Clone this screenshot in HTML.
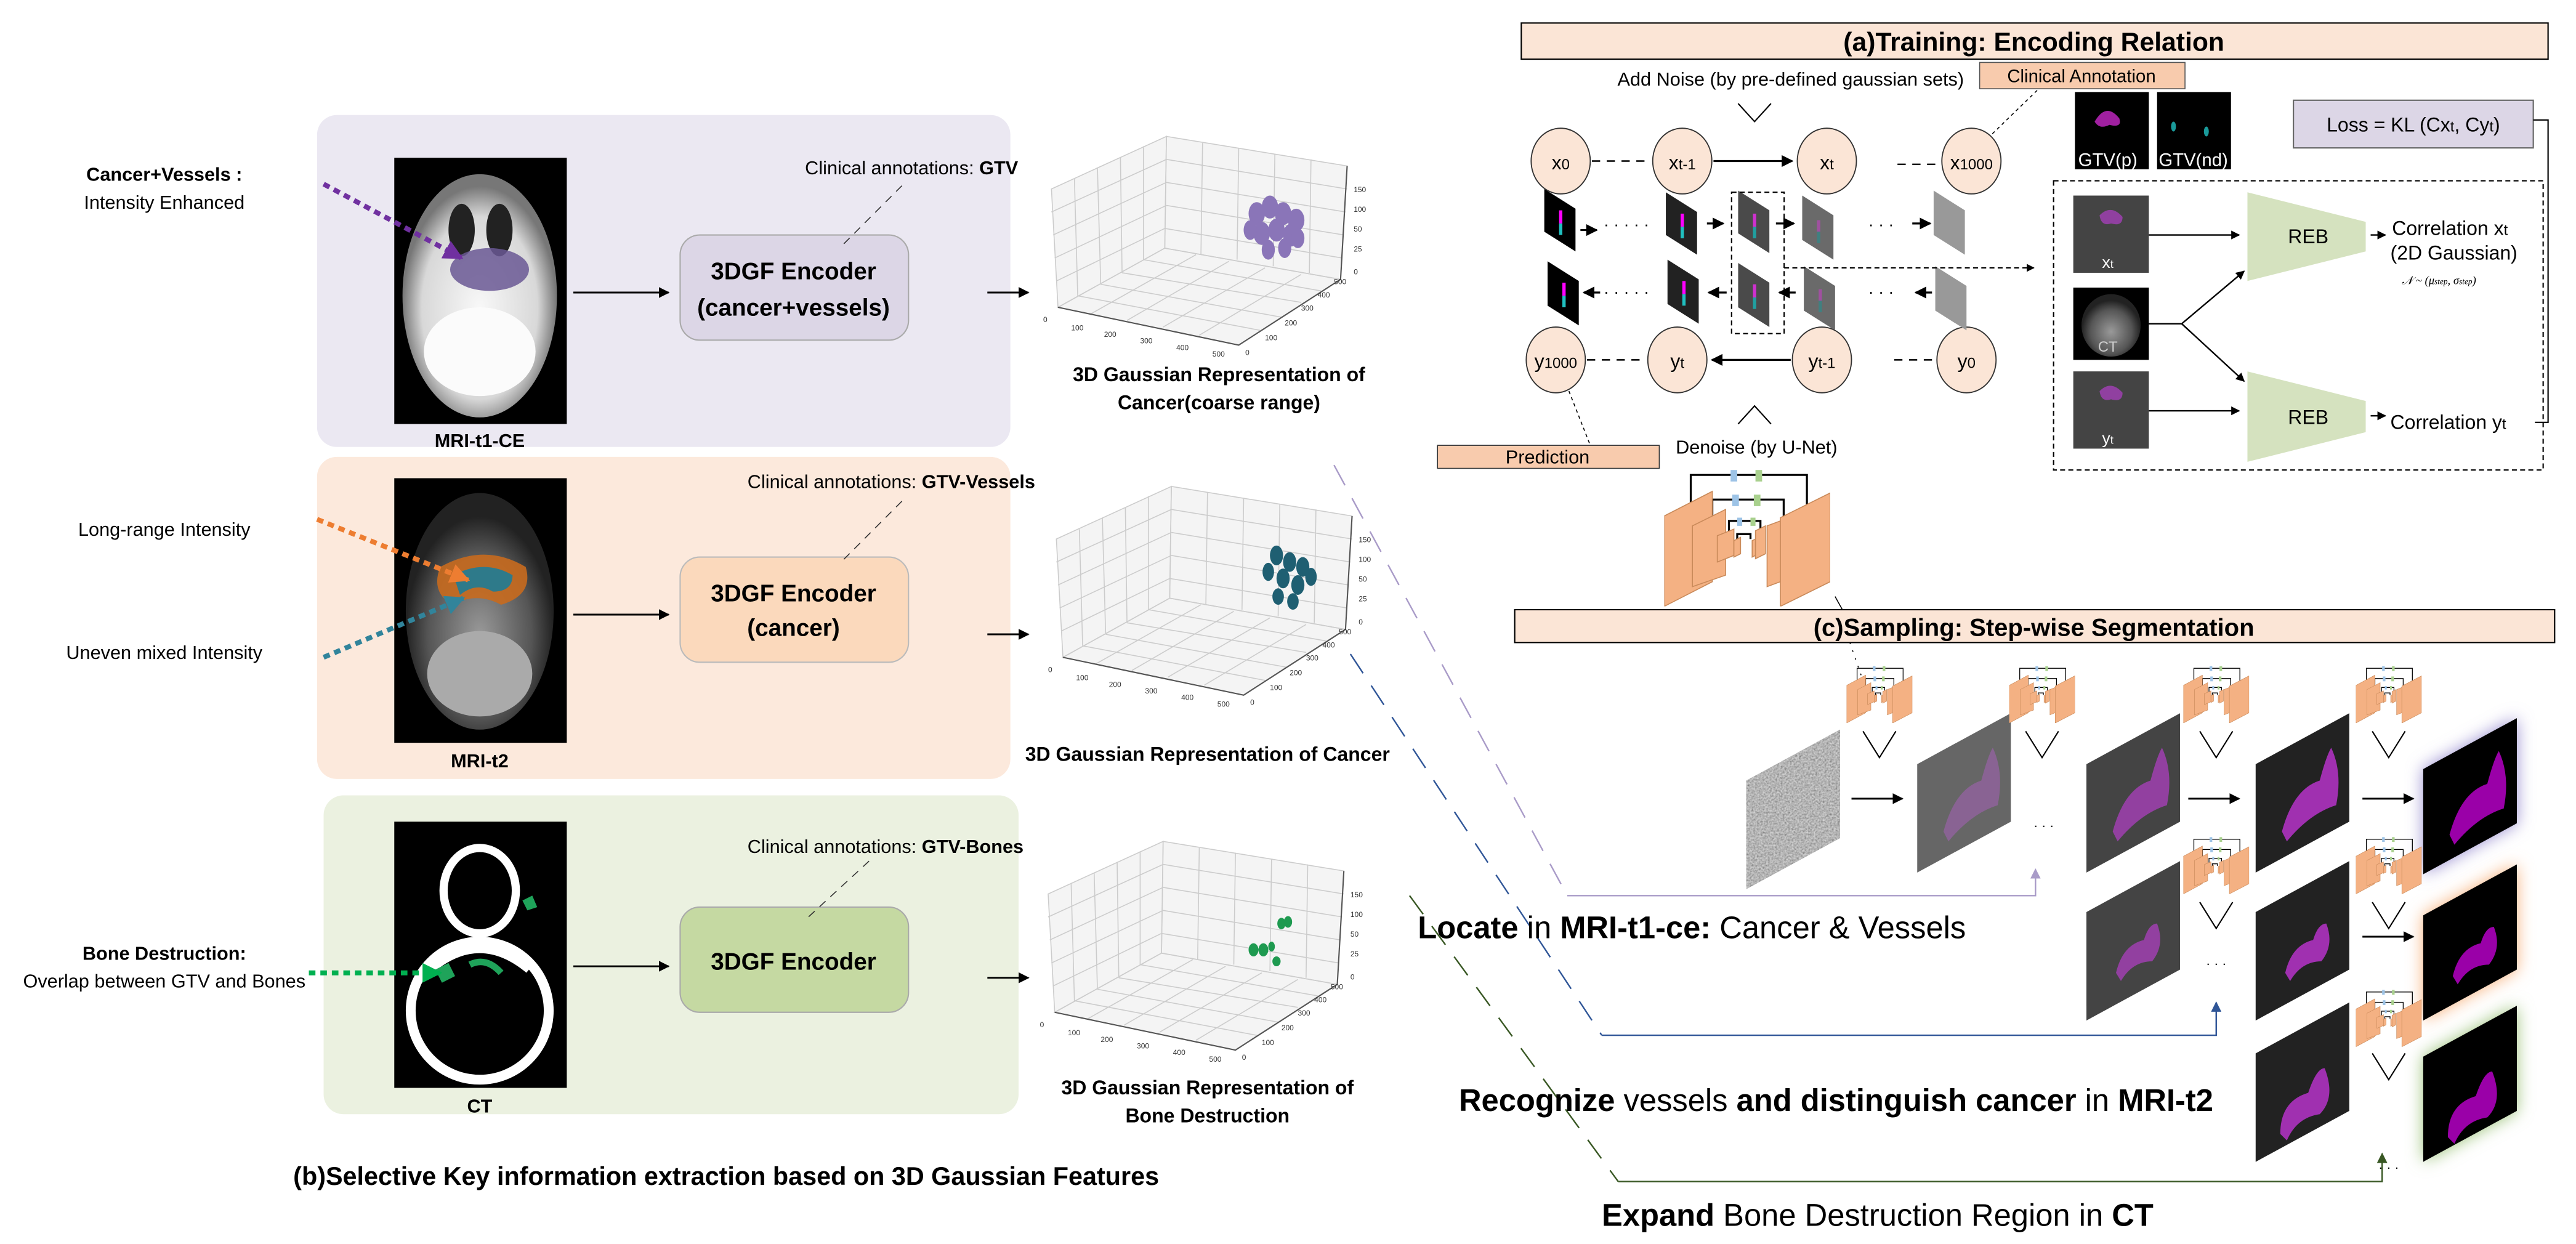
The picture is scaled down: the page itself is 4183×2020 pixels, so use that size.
<!DOCTYPE html>
<html><head><meta charset="utf-8"><style>
html,body{margin:0;padding:0;background:#fff;}
svg{display:block;font-family:"Liberation Sans",sans-serif;}
.b{font-weight:bold;}
</style></head><body>
<svg width="4183" height="2020" viewBox="0 0 1568 757" preserveAspectRatio="none" xmlns="http://www.w3.org/2000/svg">
<defs>
<marker id="ah" viewBox="0 0 10 10" refX="9" refY="5" markerWidth="6" markerHeight="6" orient="auto"><path d="M0,0 L10,5 L0,10 z" fill="#000"/></marker>
<marker id="ahp" viewBox="0 0 10 10" refX="9" refY="5" markerWidth="4" markerHeight="4" orient="auto"><path d="M0,0 L10,5 L0,10 z" fill="#7030a0"/></marker>
<marker id="aho" viewBox="0 0 10 10" refX="9" refY="5" markerWidth="4" markerHeight="4" orient="auto"><path d="M0,0 L10,5 L0,10 z" fill="#ed7d31"/></marker>
<marker id="ahb" viewBox="0 0 10 10" refX="9" refY="5" markerWidth="4" markerHeight="4" orient="auto"><path d="M0,0 L10,5 L0,10 z" fill="#31849b"/></marker>
<marker id="ahg" viewBox="0 0 10 10" refX="9" refY="5" markerWidth="4" markerHeight="4" orient="auto"><path d="M0,0 L10,5 L0,10 z" fill="#00b050"/></marker>
<marker id="ahl" viewBox="0 0 10 10" refX="9" refY="5" markerWidth="7" markerHeight="7" orient="auto"><path d="M0,0 L10,5 L0,10 z" fill="#a99bc8"/></marker>
<marker id="ahn" viewBox="0 0 10 10" refX="9" refY="5" markerWidth="7" markerHeight="7" orient="auto"><path d="M0,0 L10,5 L0,10 z" fill="#2f5597"/></marker>
<marker id="ahd" viewBox="0 0 10 10" refX="9" refY="5" markerWidth="7" markerHeight="7" orient="auto"><path d="M0,0 L10,5 L0,10 z" fill="#385723"/></marker>
<radialGradient id="head" cx="50%" cy="55%" r="50%"><stop offset="0" stop-color="#f8f8f8"/><stop offset="0.75" stop-color="#d8d8d8"/><stop offset="1" stop-color="#777"/></radialGradient>
<radialGradient id="head2" cx="50%" cy="60%" r="50%"><stop offset="0" stop-color="#999"/><stop offset="0.7" stop-color="#555"/><stop offset="1" stop-color="#222"/></radialGradient>
<filter id="noise"><feTurbulence type="fractalNoise" baseFrequency="0.9" numOctaves="2" result="t"/><feColorMatrix type="saturate" values="0"/><feComponentTransfer><feFuncA type="table" tableValues="1 1"/></feComponentTransfer><feComposite in2="SourceGraphic" operator="in"/></filter>
<filter id="glow" x="-40%" y="-40%" width="180%" height="180%"><feGaussianBlur stdDeviation="5"/></filter>
<symbol id="unet" viewBox="0 0 100 84" preserveAspectRatio="none">
<g fill="none" stroke="#000" stroke-width="1.2">
<path d="M16,21 V4 H86 V22"/><path d="M29,31 V19 H72 V32"/><path d="M39,38 V32 H58 V38"/><path d="M44,43 V40 H52 V43"/>
</g>
<g fill="#9dc3e6"><rect x="40" y="1" width="4" height="7"/><rect x="41" y="16" width="4" height="7"/><rect x="44" y="30" width="3" height="5"/></g>
<g fill="#a9d18e"><rect x="55" y="1" width="4" height="7"/><rect x="54" y="16" width="4" height="7"/><rect x="52" y="30" width="3" height="5"/></g>
<g fill="#f4b183" stroke="#c98a5a" stroke-width="0.6">
<polygon points="0,29 29,14 29,69 0,84"/>
<polygon points="17,35 37,25 37,65 17,72"/>
<polygon points="32,41 42,37 42,53 32,57"/>
<polygon points="42,44 46,42 46,52 42,54"/>
<polygon points="53,44 57,42 57,52 53,54"/>
<polygon points="55,38 61,35 61,52 55,55"/>
<polygon points="62,35 70,32 70,69 62,72"/>
<polygon points="70,30 100,15 100,69 70,84"/>
</g>
</symbol>
<symbol id="plot" viewBox="0 0 200 150" overflow="visible">
<polygon points="10,32 80,0 190,18 186,87 124,127 14,104" fill="#f4f4f4"/>
<g stroke="#ccc" stroke-width="0.6" fill="none">
<polygon points="80,0 190,18 186,87 79,68"/>
<polygon points="10,32 80,0 79,68 14,104"/>
<polygon points="14,104 79,68 186,87 124,127"/>
<path d="M102,4 L101,72 M124,7 L123,75 M146,11 L145,79 M168,14 L167,83 M80,14 L190,32 M80,28 L189,46 M80,42 L188,60 M79,56 L187,74 M24,26 L26,97 M38,19 L40,90 M52,13 L53,83 M66,6 L66,75 M10,46 L80,14 M11,60 L80,28 M12,74 L80,42 M13,88 L79,56 M34,108 L98,72 M56,112 L118,76 M78,116 L140,80 M100,121 L162,84 M26,97 L137,118 M40,90 L150,110 M53,83 L162,101 M66,75 L174,94"/>
</g>
<path d="M14,104 L124,127 L186,87 L190,18" fill="none" stroke="#555" stroke-width="0.8"/>
<g font-size="4.5" fill="#333">
<text x="5" y="113">0</text><text x="22" y="118">100</text><text x="42" y="122">200</text><text x="64" y="126">300</text><text x="86" y="130">400</text><text x="108" y="134">500</text>
<text x="128" y="133">0</text><text x="140" y="124">100</text><text x="152" y="115">200</text><text x="162" y="106">300</text><text x="172" y="98">400</text><text x="182" y="90">500</text>
<text x="194" y="84">0</text><text x="194" y="70">25</text><text x="194" y="58">50</text><text x="194" y="46">100</text><text x="194" y="34">150</text>
</g>
</symbol>
</defs>

<!-- ===== LEFT PANEL (b) ===== -->
<rect x="193" y="70" width="422" height="202" rx="12" fill="#ebe8f2"/>
<rect x="193" y="278" width="422" height="196" rx="12" fill="#fce9dc"/>
<rect x="197" y="484" width="423" height="194" rx="12" fill="#ebf1e0"/>

<!-- MRI t1 -->
<rect x="240" y="96" width="105" height="162" fill="#000"/>
<ellipse cx="292" cy="180" rx="47" ry="74" fill="url(#head)"/>
<ellipse cx="281" cy="140" rx="8" ry="16" fill="#222"/><ellipse cx="304" cy="140" rx="8" ry="16" fill="#222"/>
<ellipse cx="292" cy="214" rx="34" ry="27" fill="#fbfbfb"/>
<ellipse cx="298" cy="164" rx="24" ry="13" fill="#6a5894" opacity="0.85"/>
<!-- MRI t2 -->
<rect x="240" y="291" width="105" height="161" fill="#000"/>
<ellipse cx="292" cy="372" rx="45" ry="72" fill="url(#head2)"/>
<ellipse cx="292" cy="410" rx="32" ry="26" fill="#aaa"/>
<path d="M268,345 Q295,330 320,345 Q325,362 305,368 Q290,360 275,368 Q262,360 268,345Z" fill="#c86a1e" opacity="0.9"/>
<path d="M276,350 Q295,340 312,350 Q312,360 300,360 Q290,354 280,362 Z" fill="#2e7a8a"/>
<!-- CT -->
<rect x="240" y="500" width="105" height="162" fill="#000"/>
<ellipse cx="292" cy="615" rx="42" ry="42" fill="none" stroke="#fff" stroke-width="6"/>
<ellipse cx="292" cy="542" rx="22" ry="26" fill="none" stroke="#fff" stroke-width="5"/>
<path d="M262,590 Q292,565 322,590" fill="none" stroke="#fff" stroke-width="5"/>
<path d="M286,587 Q296,582 305,592" fill="none" stroke="#1fa35a" stroke-width="4"/>
<path d="M265,590 l8,-4 l4,8 l-8,4z" fill="#1fa35a"/>
<path d="M318,548 l6,-3 l3,7 l-6,2z" fill="#1fa35a"/>

<g font-size="11.5" class="b" text-anchor="middle">
<text x="292" y="272">MRI-t1-CE</text><text x="292" y="467">MRI-t2</text><text x="292" y="677">CT</text>
</g>

<!-- encoders -->
<rect x="414" y="143" width="139" height="64" rx="12" fill="#dcd6e6" stroke="#aaa" stroke-width="0.8"/>
<rect x="414" y="339" width="139" height="64" rx="12" fill="#fbd9bc" stroke="#bbb" stroke-width="0.8"/>
<rect x="414" y="552" width="139" height="64" rx="12" fill="#c5d9a2" stroke="#aaa" stroke-width="0.8"/>
<g font-size="14.5" class="b" text-anchor="middle">
<text x="483" y="170">3DGF Encoder</text><text x="483" y="192">(cancer+vessels)</text>
<text x="483" y="366">3DGF Encoder</text><text x="483" y="387">(cancer)</text>
<text x="483" y="590">3DGF Encoder</text>
</g>
<g stroke="#000" stroke-width="1.1" marker-end="url(#ah)">
<line x1="349" y1="178" x2="407" y2="178"/><line x1="349" y1="374" x2="407" y2="374"/><line x1="349" y1="588" x2="407" y2="588"/>
<line x1="601" y1="178" x2="626" y2="178"/><line x1="601" y1="386" x2="626" y2="386"/><line x1="601" y1="595" x2="626" y2="595"/>
</g>
<g font-size="11.5">
<text x="490" y="106">Clinical annotations: <tspan class="b">GTV</tspan></text>
<text x="455" y="297">Clinical annotations: <tspan class="b">GTV-Vessels</tspan></text>
<text x="455" y="519">Clinical annotations: <tspan class="b">GTV-Bones</tspan></text>
</g>
<g stroke="#333" stroke-width="0.6" stroke-dasharray="5,4">
<line x1="549" y1="113" x2="512" y2="150"/><line x1="549" y1="305" x2="512" y2="342"/><line x1="529" y1="524" x2="491" y2="559"/>
</g>

<!-- plots -->
<use href="#plot" x="630" y="83" width="200" height="150"/>
<use href="#plot" x="633" y="296" width="200" height="150"/>
<use href="#plot" x="628" y="512" width="200" height="150"/>
<g fill="#8a75b8">
<ellipse cx="765" cy="130" rx="5" ry="7"/><ellipse cx="773" cy="126" rx="5" ry="7"/><ellipse cx="781" cy="130" rx="5" ry="7"/><ellipse cx="789" cy="134" rx="5" ry="7"/>
<ellipse cx="768" cy="142" rx="5" ry="7"/><ellipse cx="777" cy="140" rx="5" ry="7"/><ellipse cx="786" cy="143" rx="5" ry="7"/><ellipse cx="761" cy="140" rx="4" ry="6"/>
<ellipse cx="772" cy="152" rx="4" ry="6"/><ellipse cx="782" cy="151" rx="4" ry="6"/><ellipse cx="790" cy="145" rx="4" ry="6"/>
</g>
<g fill="#1f5f72">
<ellipse cx="777" cy="338" rx="4" ry="6"/><ellipse cx="785" cy="342" rx="4" ry="6"/><ellipse cx="793" cy="345" rx="4" ry="6"/><ellipse cx="772" cy="348" rx="3.5" ry="5.5"/>
<ellipse cx="781" cy="352" rx="4" ry="6"/><ellipse cx="790" cy="356" rx="4" ry="6"/><ellipse cx="798" cy="351" rx="3.5" ry="5.5"/><ellipse cx="778" cy="363" rx="3.5" ry="5"/><ellipse cx="787" cy="366" rx="3.5" ry="5"/>
</g>
<g fill="#1e9a50">
<ellipse cx="780" cy="562" rx="2.5" ry="3.5"/><ellipse cx="784" cy="561" rx="2.5" ry="3.5"/><ellipse cx="763" cy="578" rx="3" ry="4"/><ellipse cx="769" cy="578" rx="3" ry="4"/><ellipse cx="774" cy="576" rx="2" ry="3"/><ellipse cx="777" cy="585" rx="2.5" ry="3"/>
</g>
<g font-size="12" class="b" text-anchor="middle">
<text x="742" y="232">3D Gaussian Representation of</text><text x="742" y="249">Cancer(coarse range)</text>
<text x="735" y="463">3D Gaussian Representation of Cancer</text>
<text x="735" y="666">3D Gaussian Representation of</text><text x="735" y="683">Bone Destruction</text>
</g>

<!-- left annotations -->
<g font-size="11.5" text-anchor="middle">
<text x="100" y="110" class="b">Cancer+Vessels :</text><text x="100" y="127">Intensity Enhanced</text>
<text x="100" y="326">Long-range Intensity</text>
<text x="100" y="401">Uneven mixed Intensity</text>
<text x="100" y="584" class="b">Bone Destruction:</text><text x="100" y="601">Overlap between GTV and Bones</text>
</g>
<g stroke-width="3" stroke-dasharray="4,3" fill="none">
<line x1="197" y1="112" x2="281" y2="157" stroke="#7030a0" marker-end="url(#ahp)"/>
<line x1="193" y1="316" x2="285" y2="353" stroke="#ed7d31" marker-end="url(#aho)"/>
<line x1="197" y1="400" x2="282" y2="364" stroke="#31849b" marker-end="url(#ahb)"/>
<line x1="188" y1="592" x2="268" y2="592" stroke="#00b050" marker-end="url(#ahg)"/>
</g>
<text x="442" y="721" font-size="15.5" class="b" text-anchor="middle">(b)Selective Key information extraction based on 3D Gaussian Features</text>

<!-- ===== (a) TRAINING ===== -->
<rect x="926" y="14" width="625" height="22" fill="#fbe5d6" stroke="#000" stroke-width="0.8"/>
<text x="1238" y="31" font-size="16" class="b" text-anchor="middle">(a)Training: Encoding Relation</text>
<text x="1090" y="52" font-size="11.5" text-anchor="middle">Add Noise (by pre-defined gaussian sets)</text>
<rect x="1205" y="38" width="125" height="16" fill="#f8cbad" stroke="#555" stroke-width="0.6"/>
<text x="1267" y="50" font-size="11" text-anchor="middle">Clinical Annotation</text>
<path d="M1058,63 L1068,74 L1078,63" fill="none" stroke="#000" stroke-width="0.8"/>
<line x1="1240" y1="55" x2="1208" y2="86" stroke="#000" stroke-width="0.6" stroke-dasharray="2,2"/>

<g fill="#fbe5d6" stroke="#333" stroke-width="0.7">
<ellipse cx="950" cy="98" rx="18" ry="20"/><ellipse cx="1024" cy="98" rx="18" ry="20"/><ellipse cx="1112" cy="98" rx="18" ry="20"/><ellipse cx="1200" cy="98" rx="18" ry="20"/>
<ellipse cx="947" cy="219" rx="18" ry="20"/><ellipse cx="1021" cy="219" rx="18" ry="20"/><ellipse cx="1109" cy="219" rx="18" ry="20"/><ellipse cx="1197" cy="219" rx="18" ry="20"/>
</g>
<g font-size="12" text-anchor="middle">
<text x="950" y="103">x<tspan font-size="9">0</tspan></text><text x="1024" y="103">x<tspan font-size="9">t-1</tspan></text><text x="1112" y="103">x<tspan font-size="9">t</tspan></text><text x="1200" y="103">x<tspan font-size="9">1000</tspan></text>
<text x="947" y="224">y<tspan font-size="9">1000</tspan></text><text x="1021" y="224">y<tspan font-size="9">t</tspan></text><text x="1109" y="224">y<tspan font-size="9">t-1</tspan></text><text x="1197" y="224">y<tspan font-size="9">0</tspan></text>
</g>
<g stroke="#000" stroke-width="0.9" stroke-dasharray="5,4">
<line x1="969" y1="98" x2="1005" y2="98"/><line x1="1155" y1="100" x2="1180" y2="100"/>
<line x1="966" y1="219" x2="1002" y2="219"/><line x1="1153" y1="219" x2="1178" y2="219"/>
</g>
<line x1="1043" y1="98" x2="1091" y2="98" stroke="#000" stroke-width="1.2" marker-end="url(#ah)"/>
<line x1="1090" y1="219" x2="1042" y2="219" stroke="#000" stroke-width="1.2" marker-end="url(#ah)"/>

<!-- small slices (a) -->
<g>
<polygon points="940,115 959,127 959,153 940,141" fill="#000"/>
<polygon points="1014,117 1033,129 1033,155 1014,143" fill="#222"/>
<polygon points="1058,116 1077,128 1077,154 1058,142" fill="#4a4a4a"/>
<polygon points="1097,119 1116,131 1116,158 1097,146" fill="#6a6a6a"/>
<polygon points="1177,116 1196,128 1196,155 1177,143" fill="#999"/>
<polygon points="942,159 961,171 961,198 942,186" fill="#000"/>
<polygon points="1015,158 1034,170 1034,197 1015,185" fill="#222"/>
<polygon points="1058,160 1077,172 1077,199 1058,187" fill="#4a4a4a"/>
<polygon points="1098,162 1117,174 1117,201 1098,189" fill="#6a6a6a"/>
<polygon points="1178,162 1197,174 1197,201 1178,189" fill="#999"/>
</g>
<g stroke-width="2">
<line x1="950" y1="128" x2="950" y2="136" stroke="#ff00ff"/><line x1="950" y1="136" x2="950" y2="143" stroke="#20c0c0"/>
<line x1="1024" y1="130" x2="1024" y2="138" stroke="#ff00ff"/><line x1="1024" y1="138" x2="1024" y2="145" stroke="#20c0c0"/>
<line x1="1068" y1="130" x2="1068" y2="138" stroke="#d030d0"/><line x1="1068" y1="138" x2="1068" y2="145" stroke="#20a0a0"/>
<line x1="1107" y1="134" x2="1107" y2="141" stroke="#a050a0"/><line x1="1107" y1="141" x2="1107" y2="148" stroke="#408080"/>
<line x1="952" y1="172" x2="952" y2="180" stroke="#ff00ff"/><line x1="952" y1="180" x2="952" y2="187" stroke="#20c0c0"/>
<line x1="1025" y1="171" x2="1025" y2="179" stroke="#ff00ff"/><line x1="1025" y1="179" x2="1025" y2="186" stroke="#20c0c0"/>
<line x1="1068" y1="173" x2="1068" y2="181" stroke="#d030d0"/><line x1="1068" y1="181" x2="1068" y2="188" stroke="#20a0a0"/>
<line x1="1108" y1="176" x2="1108" y2="183" stroke="#a050a0"/><line x1="1108" y1="183" x2="1108" y2="190" stroke="#408080"/>
</g>
<g stroke="#000" stroke-width="1.2" marker-end="url(#ah)">
<line x1="962" y1="140" x2="972" y2="140"/><line x1="1039" y1="136" x2="1049" y2="136"/><line x1="1081" y1="136" x2="1092" y2="136"/><line x1="1164" y1="136" x2="1175" y2="136"/>
<line x1="974" y1="178" x2="964" y2="178"/><line x1="1051" y1="178" x2="1040" y2="178"/><line x1="1093" y1="178" x2="1083" y2="178"/><line x1="1176" y1="178" x2="1166" y2="178"/>
</g>
<g font-size="10" text-anchor="middle"><text x="990" y="140">· · · · ·</text><text x="1145" y="140">· · ·</text><text x="990" y="181">· · · · ·</text><text x="1145" y="181">· · ·</text></g>
<rect x="1054" y="117" width="32" height="86" fill="none" stroke="#000" stroke-width="0.8" stroke-dasharray="3,2"/>
<line x1="1086" y1="163" x2="1238" y2="163" stroke="#000" stroke-width="0.8" stroke-dasharray="3,2" marker-end="url(#ah)"/>

<!-- GTV images -->
<rect x="1263" y="56" width="45" height="47" fill="#000"/><rect x="1313" y="56" width="45" height="47" fill="#000"/>
<path d="M1275,74 Q1282,62 1290,72 Q1292,78 1284,76 Q1278,79 1275,74Z" fill="#a020a0"/>
<ellipse cx="1323" cy="77" rx="1.5" ry="3" fill="#1a9a9a"/><ellipse cx="1343" cy="80" rx="1.5" ry="3" fill="#1a9a9a"/>
<g font-size="11" fill="#fff"><text x="1265" y="101">GTV(p)</text><text x="1314" y="101">GTV(nd)</text></g>

<!-- Loss -->
<rect x="1396" y="61" width="146" height="29" fill="#dcd6e6" stroke="#666" stroke-width="0.8"/>
<text x="1469" y="80" font-size="12" text-anchor="middle">Loss = KL (Cx<tspan font-size="9">t</tspan>, Cy<tspan font-size="9">t</tspan>)</text>
<path d="M1542,73 H1551 V257 H1543" fill="none" stroke="#000" stroke-width="0.8"/>

<!-- dashed box -->
<rect x="1250" y="110" width="298" height="176" fill="none" stroke="#000" stroke-width="0.8" stroke-dasharray="3,2"/>
<rect x="1262" y="119" width="46" height="47" fill="#444"/>
<path d="M1278,131 Q1285,124 1292,132 Q1292,138 1285,136 Q1279,138 1278,131Z" fill="#9040a0"/>
<text x="1283" y="163" font-size="10" fill="#fff" text-anchor="middle">x<tspan font-size="7">t</tspan></text>
<rect x="1262" y="175" width="46" height="44" fill="#000"/>
<ellipse cx="1285" cy="198" rx="18" ry="19" fill="url(#head2)"/>
<text x="1283" y="214" font-size="9" fill="#ccc" text-anchor="middle">CT</text>
<rect x="1262" y="226" width="46" height="47" fill="#444"/>
<path d="M1278,238 Q1285,231 1292,239 Q1292,245 1285,243 Q1279,245 1278,238Z" fill="#9040a0"/>
<text x="1283" y="270" font-size="10" fill="#fff" text-anchor="middle">y<tspan font-size="7">t</tspan></text>
<polygon points="1368,117 1440,135 1440,153 1368,171" fill="#d5e2bf"/>
<polygon points="1368,226 1440,244 1440,263 1368,281" fill="#d5e2bf"/>
<g font-size="12" text-anchor="middle"><text x="1405" y="148">REB</text><text x="1405" y="258">REB</text></g>
<g stroke="#000" stroke-width="0.9" fill="none">
<line x1="1308" y1="143" x2="1363" y2="143" marker-end="url(#ah)"/>
<line x1="1308" y1="250" x2="1363" y2="250" marker-end="url(#ah)"/>
<path d="M1308,197 H1328"/><line x1="1328" y1="197" x2="1366" y2="165" marker-end="url(#ah)"/><line x1="1328" y1="197" x2="1366" y2="232" marker-end="url(#ah)"/>
<line x1="1443" y1="143" x2="1452" y2="143" marker-end="url(#ah)"/>
<line x1="1443" y1="253" x2="1452" y2="253" marker-end="url(#ah)"/>
</g>
<g font-size="12">
<text x="1456" y="143">Correlation x<tspan font-size="9">t</tspan></text>
<text x="1455" y="158">(2D Gaussian)</text>
<text x="1462" y="173" font-size="7" font-family="Liberation Serif" font-style="italic">𝒩 ~ (μ<tspan font-size="5">step</tspan>, σ<tspan font-size="5">step</tspan>)</text>
<text x="1455" y="261">Correlation y<tspan font-size="9">t</tspan></text>
</g>

<rect x="875" y="271" width="135" height="14" fill="#f8cbad" stroke="#333" stroke-width="0.6"/>
<text x="942" y="282" font-size="11.5" text-anchor="middle">Prediction</text>
<line x1="955" y1="238" x2="968" y2="271" stroke="#000" stroke-width="0.6" stroke-dasharray="2,2"/>
<path d="M1058,258 L1068,247 L1078,258" fill="none" stroke="#000" stroke-width="0.8"/>
<text x="1020" y="276" font-size="11.5">Denoise (by U-Net)</text>
<use href="#unet" x="1013" y="285" width="101" height="84"/>
<line x1="1117" y1="363" x2="1122" y2="372" stroke="#000" stroke-width="0.6"/>

<!-- ===== (c) SAMPLING ===== -->
<rect x="922" y="371" width="633" height="20" fill="#fbe5d6" stroke="#000" stroke-width="0.8"/>
<text x="1238" y="387" font-size="15" class="b" text-anchor="middle">(c)Sampling: Step-wise Segmentation</text>
<line x1="1126" y1="391" x2="1136" y2="420" stroke="#000" stroke-width="0.6" stroke-dasharray="1,4"/>

<!-- glows -->
<polygon points="1475,468 1532,437 1532,501 1475,532" fill="#9a8fd0" filter="url(#glow)"/>
<polygon points="1475,557 1532,526 1532,590 1475,621" fill="#f7b07a" filter="url(#glow)"/>
<polygon points="1475,643 1532,612 1532,676 1475,707" fill="#9cc27a" filter="url(#glow)"/>

<g>
<polygon points="1063,475 1120,444 1120,510 1063,541" fill="#777"/>
<polygon points="1063,475 1120,444 1120,510 1063,541" fill="#888" filter="url(#noise)" opacity="0.9"/>
<polygon points="1167,465 1224,434 1224,500 1167,531" fill="#666"/>
<polygon points="1270,465 1327,434 1327,500 1270,531" fill="#444"/>
<polygon points="1373,465 1430,434 1430,500 1373,531" fill="#222"/>
<polygon points="1475,468 1532,437 1532,501 1475,532" fill="#000"/>
<polygon points="1270,555 1327,524 1327,590 1270,621" fill="#444"/>
<polygon points="1373,555 1430,524 1430,590 1373,621" fill="#222"/>
<polygon points="1475,557 1532,526 1532,590 1475,621" fill="#000"/>
<polygon points="1373,641 1430,610 1430,676 1373,707" fill="#222"/>
<polygon points="1475,643 1532,612 1532,676 1475,707" fill="#000"/>
</g>
<g>
<path d="M1183,506 Q1190,480 1206,475 Q1210,460 1213,455 Q1220,470 1216,490 Q1200,495 1186,512Z" fill="#a060b0" opacity="0.6"/>
<path d="M1286,506 Q1293,480 1309,475 Q1313,460 1316,455 Q1323,470 1319,490 Q1303,495 1289,512Z" fill="#a040b0" opacity="0.85"/>
<path d="M1389,506 Q1396,480 1412,475 Q1416,460 1419,455 Q1426,470 1422,490 Q1406,495 1392,512Z" fill="#a030b0"/>
<path d="M1491,508 Q1498,482 1514,477 Q1518,462 1521,457 Q1528,472 1524,492 Q1508,497 1494,514Z" fill="#9a00a8"/>
<path d="M1288,592 Q1292,575 1305,572 Q1308,562 1313,562 Q1318,575 1310,585 Q1298,585 1291,597Z" fill="#a040b0" opacity="0.85"/>
<path d="M1391,592 Q1395,575 1408,572 Q1411,562 1416,562 Q1421,575 1413,585 Q1401,585 1394,597Z" fill="#a030b0"/>
<path d="M1493,594 Q1497,577 1510,574 Q1513,564 1518,564 Q1523,577 1515,587 Q1503,587 1496,599Z" fill="#9a00a8"/>
<path d="M1388,690 Q1388,670 1405,665 Q1410,650 1415,650 Q1422,668 1412,678 Q1398,680 1392,694Z" fill="#a030b0"/>
<path d="M1490,692 Q1490,672 1507,667 Q1512,652 1517,652 Q1524,670 1514,680 Q1500,682 1494,696Z" fill="#9a00a8"/>
</g>
<use href="#unet" x="1124" y="405" width="40" height="35"/>
<use href="#unet" x="1223" y="405" width="40" height="35"/>
<use href="#unet" x="1329" y="405" width="40" height="35"/>
<use href="#unet" x="1434" y="405" width="40" height="35"/>
<use href="#unet" x="1329" y="509" width="40" height="35"/>
<use href="#unet" x="1434" y="509" width="40" height="35"/>
<use href="#unet" x="1434" y="602" width="40" height="35"/>
<g fill="none" stroke="#000" stroke-width="0.8">
<path d="M1134,445 L1144,461 L1154,445"/><path d="M1233,445 L1243,461 L1253,445"/><path d="M1339,445 L1349,461 L1359,445"/><path d="M1444,445 L1454,461 L1464,445"/>
<path d="M1339,549 L1349,565 L1359,549"/><path d="M1444,549 L1454,565 L1464,549"/>
<path d="M1444,641 L1454,657 L1464,641"/>
</g>
<g stroke="#000" stroke-width="1.1" marker-end="url(#ah)">
<line x1="1127" y1="486" x2="1158" y2="486"/><line x1="1332" y1="486" x2="1363" y2="486"/><line x1="1438" y1="486" x2="1469" y2="486"/><line x1="1438" y1="570" x2="1469" y2="570"/>
</g>
<g font-size="8" text-anchor="middle"><text x="1244" y="505">· · ·</text><text x="1349" y="589">· · ·</text><text x="1454" y="713">· · ·</text></g>

<!-- connectors -->
<g fill="none" stroke-width="0.9">
<path d="M812,283 L954,545" stroke="#a99bc8" stroke-dasharray="14,9"/>
<path d="M954,545 H1239 V529" stroke="#a99bc8" marker-end="url(#ahl)"/>
<path d="M822,398 L975,630" stroke="#2f5597" stroke-dasharray="14,9"/>
<path d="M975,630 H1349 V610" stroke="#2f5597" marker-end="url(#ahn)"/>
<path d="M858,545 L985,719" stroke="#385723" stroke-dasharray="14,9"/>
<path d="M985,719 H1450 V702" stroke="#385723" marker-end="url(#ahd)"/>
</g>
<g font-size="19">
<text x="863" y="571"><tspan class="b">Locate</tspan> in <tspan class="b">MRI-t1-ce:</tspan> Cancer &amp; Vessels</text>
<text x="888" y="676"><tspan class="b">Recognize</tspan> vessels <tspan class="b">and distinguish cancer</tspan> in <tspan class="b">MRI-t2</tspan></text>
<text x="975" y="746"><tspan class="b">Expand</tspan> Bone Destruction Region in <tspan class="b">CT</tspan></text>
</g>
</svg>
</body></html>
